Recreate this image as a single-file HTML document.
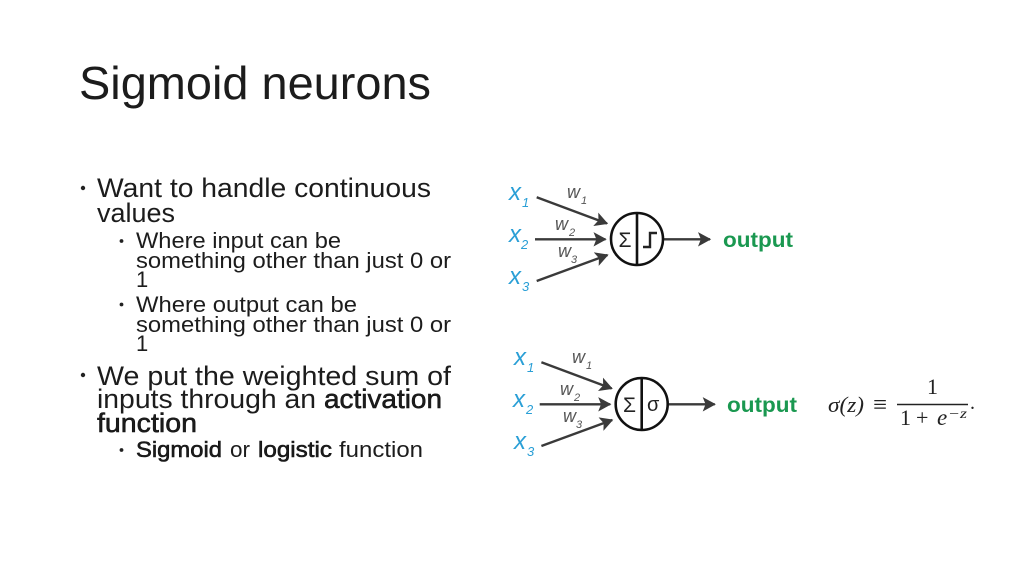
<!DOCTYPE html>
<html><head><meta charset="utf-8"><style>
html,body{margin:0;padding:0;background:#fff;width:1024px;height:576px;overflow:hidden}
svg{display:block;filter:blur(.35px)}
text{font-family:"Liberation Sans",sans-serif;fill:#1c1c1c}
.l1{font-size:27px}.l2{font-size:22px}
.b{stroke:#111;stroke-width:.55px}
.x{font-size:24px;font-style:italic;fill:#2a9fd6}
.xs{font-size:13px;font-style:italic;fill:#2a9fd6}
.w{font-size:18px;font-style:italic;fill:#555}
.ws{font-size:11px;font-style:italic;fill:#555}
.o{font-size:21px;font-weight:bold;fill:#1a9850}
text.m{font-family:"Liberation Serif",serif;fill:#222}
</style></head><body>
<svg width="1024" height="576" viewBox="0 0 1024 576" xmlns="http://www.w3.org/2000/svg">
<defs>
<marker id="a" markerWidth="6" markerHeight="6" refX="5" refY="3" orient="auto" markerUnits="strokeWidth"><path d="M0,0 L5.5,3 L0,6 L1.2,3 Z" fill="#3a3a3a"/></marker>
<g id="net" fill="none">
<g stroke="#3a3a3a" stroke-width="2.4">
<line x1="536.7" y1="197.3" x2="607" y2="223.5" marker-end="url(#a)"/>
<line x1="535" y1="239.3" x2="605.5" y2="239.3" marker-end="url(#a)"/>
<line x1="536.7" y1="281" x2="607.5" y2="255" marker-end="url(#a)"/>
<line x1="664" y1="239.3" x2="710" y2="239.3" marker-end="url(#a)"/>
</g>
<circle cx="637" cy="239" r="26" fill="#fff" stroke="#111" stroke-width="2.6"/>
<line x1="637" y1="213" x2="637" y2="265" stroke="#111" stroke-width="2.6"/>
</g>
</defs>

<text x="79" y="99" font-size="46" textLength="352" lengthAdjust="spacingAndGlyphs">Sigmoid neurons</text>

<circle cx="83" cy="188" r="2.2" fill="#222"/>
<text class="l1" x="97" y="197" textLength="334" lengthAdjust="spacingAndGlyphs">Want to handle continuous</text>
<text class="l1" x="97" y="222" textLength="78" lengthAdjust="spacingAndGlyphs">values</text>

<circle cx="121.5" cy="241" r="1.9" fill="#222"/>
<text class="l2" x="136" y="248" textLength="205" lengthAdjust="spacingAndGlyphs">Where input can be</text>
<text class="l2" x="136" y="268" textLength="315" lengthAdjust="spacingAndGlyphs">something other than just 0 or</text>
<text class="l2" x="136" y="287">1</text>

<circle cx="121.5" cy="304.5" r="1.9" fill="#222"/>
<text class="l2" x="136" y="312" textLength="221" lengthAdjust="spacingAndGlyphs">Where output can be</text>
<text class="l2" x="136" y="332" textLength="315" lengthAdjust="spacingAndGlyphs">something other than just 0 or</text>
<text class="l2" x="136" y="351">1</text>

<circle cx="83" cy="375" r="2.2" fill="#222"/>
<text class="l1" x="97" y="385" textLength="354" lengthAdjust="spacingAndGlyphs">We put the weighted sum of</text>
<text class="l1" x="97" y="408" textLength="219" lengthAdjust="spacingAndGlyphs">inputs through an</text>
<text class="l1 b" x="324" y="408" textLength="118" lengthAdjust="spacingAndGlyphs">activation</text>
<text class="l1 b" x="97" y="432" textLength="100" lengthAdjust="spacingAndGlyphs">function</text>

<circle cx="121.5" cy="450" r="1.9" fill="#222"/>
<text class="l2 b" x="136" y="457" textLength="86" lengthAdjust="spacingAndGlyphs">Sigmoid</text>
<text class="l2" x="230" y="457" textLength="20" lengthAdjust="spacingAndGlyphs">or</text>
<text class="l2 b" x="258" y="457" textLength="74" lengthAdjust="spacingAndGlyphs">logistic</text>
<text class="l2" x="339" y="457" textLength="84" lengthAdjust="spacingAndGlyphs">function</text>

<!-- Top neuron -->
<use href="#net"/>
<text class="x" x="509" y="200">x</text><text class="xs" x="522" y="207">1</text>
<text class="x" x="509" y="242">x</text><text class="xs" x="521" y="249">2</text>
<text class="x" x="509" y="284">x</text><text class="xs" x="522" y="291">3</text>
<text class="w" x="567" y="198">w</text><text class="ws" x="581" y="204">1</text>
<text class="w" x="555" y="230">w</text><text class="ws" x="569" y="236">2</text>
<text class="w" x="558" y="257">w</text><text class="ws" x="571" y="263">3</text>
<text x="618.5" y="247" font-size="21" style="fill:#222">Σ</text>
<path d="M643,247 H650 V233 H657" fill="none" stroke="#222" stroke-width="2.4"/>
<text class="o" x="723" y="247" textLength="70" lengthAdjust="spacingAndGlyphs">output</text>

<!-- Bottom neuron -->
<use href="#net" transform="translate(4.7,165)"/>
<text class="x" x="514" y="365">x</text><text class="xs" x="527" y="372">1</text>
<text class="x" x="513" y="407">x</text><text class="xs" x="526" y="414">2</text>
<text class="x" x="514" y="449">x</text><text class="xs" x="527" y="456">3</text>
<text class="w" x="572" y="363">w</text><text class="ws" x="586" y="369">1</text>
<text class="w" x="560" y="395">w</text><text class="ws" x="574" y="401">2</text>
<text class="w" x="563" y="422">w</text><text class="ws" x="576" y="428">3</text>
<text x="623" y="412" font-size="21" style="fill:#222">Σ</text>
<text x="647" y="411" font-size="20" style="fill:#222">σ</text>
<text class="o" x="727" y="412" textLength="70" lengthAdjust="spacingAndGlyphs">output</text>

<!-- Formula -->
<text class="m" x="828" y="412" font-size="22" font-style="italic" textLength="36" lengthAdjust="spacingAndGlyphs">σ(z)</text>
<text class="m" x="873" y="413" font-size="26" textLength="14" lengthAdjust="spacingAndGlyphs">≡</text>
<text class="m" x="927" y="394" font-size="22">1</text>
<line x1="897" y1="404.5" x2="968" y2="404.5" stroke="#222" stroke-width="1.4"/>
<text class="m" x="900" y="425" font-size="22">1</text>
<text class="m" x="916" y="425" font-size="22">+</text>
<text class="m" x="937" y="425" font-size="23" font-style="italic">e</text>
<text class="m" x="948" y="418" font-size="14" font-style="italic" textLength="19" lengthAdjust="spacingAndGlyphs">−z</text>
<text class="m" x="970" y="409" font-size="20">.</text>
</svg>
</body></html>
